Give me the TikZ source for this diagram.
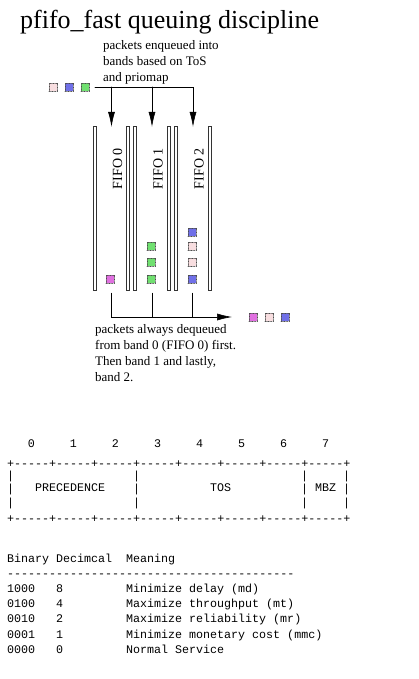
\documentclass[tikz,border=0pt]{standalone}
\usepackage{fontspec}
\setmainfont{Liberation Serif}
\setmonofont{Liberation Mono}
\usepackage{tikz}
\usetikzlibrary{calc}
\usetikzlibrary{arrows.meta}
\usetikzlibrary{positioning}
\definecolor{pktpink}{RGB}{248,222,224}
\definecolor{pktblue}{RGB}{112,112,232}
\definecolor{pktgreen}{RGB}{112,224,112}
\definecolor{pktmagenta}{RGB}{224,112,224}

\begin{document}
\begin{tikzpicture}[x=1pt,y=-1pt,cap=round]
  \tikzstyle{packet}=[draw=black!70,densely dotted,minimum size=8pt,inner sep=0pt,line width=0.6pt]
  \tikzstyle{wall}=[draw=black!80,line width=0.7pt,fill=white]
  \tikzstyle{band}=[minimum width=33pt,minimum height=163pt,inner sep=0pt]
  \tikzstyle{txt}=[inner sep=0pt,anchor=base west,align=left,font=\fontsize{13}{16}\selectfont]
  \tikzstyle{mono}=[inner sep=0pt,anchor=base west,font=\ttfamily\fontsize{11.67}{14}\selectfont]
  \tikzstyle{flow}=[-{Latex[length=15pt,width=7pt]},line width=0.6pt]
  \useasboundingbox (0,0) rectangle (419,679);

  \node[inner sep=0pt,anchor=base west,font=\fontsize{26}{30}\selectfont] (title) at (20,29) {pfifo\_fast queuing discipline};

  % enqueue side (base is the last line)
  \node[txt] (enqtxt) at (103,82) {packets enqueued into\\bands based on ToS\\and priomap};
  \foreach \x/\c/\n in {53/pktpink/in0, 69/pktblue/in1, 85/pktgreen/in2}
    \node[packet,fill=\c] (\n) at (\x,87) {};
  \coordinate (split) at (95,87);

  % the three bands
  \foreach \i/\x in {0/111.5, 1/152, 2/193} {
    \node[band] (fifo\i) at (\x,208.5) {};
    \draw[wall] ($(fifo\i.north west)+(-1.5,0)$) rectangle ($(fifo\i.south west)+(1.5,0)$);
    \draw[wall] ($(fifo\i.north east)+(-1.5,0)$) rectangle ($(fifo\i.south east)+(1.5,0)$);
    \node[rotate=90,inner sep=0pt,font=\fontsize{14}{16}\selectfont] (lab\i) at ($(fifo\i.north)+(6,42)$) {FIFO \i};
  }
  \draw[flow] (split) -| (fifo2.north);
  \draw[flow] (split -| fifo0.north) -- (fifo0.north);
  \draw[flow] (split -| fifo1.north) -- (fifo1.north);

  % queued packets
  \foreach \x/\y/\c/\n in {110/279/pktmagenta/p0a, 151/279/pktgreen/p1a, 151/262/pktgreen/p1b, 151/246/pktgreen/p1c,
                           192/279/pktblue/p2a, 192/262/pktpink/p2b, 192/246/pktpink/p2c, 192/232/pktblue/p2d}
    \node[packet,fill=\c] (\n) at (\x,\y) {};

  % dequeue side
  \coordinate (deq) at (232,317);
  \draw[flow] ($(fifo0.south)+(-0.5,3)$) |- (deq);
  \draw[line width=0.6pt] ($(fifo1.south)+(0,3)$) -- (fifo1.south |- deq);
  \draw[line width=0.6pt] ($(fifo2.south)+(-1,3)$) -- ($(fifo2.south |- deq)+(-1,0)$);
  \foreach \x/\c/\n in {253/pktmagenta/out0, 269/pktpink/out1, 285/pktblue/out2}
    \node[packet,fill=\c] (\n) at (\x,317) {};
  \node[txt] (deqtxt) at (95,381) {packets always dequeued\\from band 0 (FIFO 0) first.\\Then band 1 and lastly,\\band 2.};

  % ToS byte
  \foreach \b in {0,...,7}
    \node[mono,anchor=base] (bit\b) at ({7+(6*\b+3.5)*7},447) {\b};
  \node[mono] (rowtop) at (7,467) {+-----+-----+-----+-----+-----+-----+-----+-----+};
  \foreach \y [count=\r] in {479,492.5,506}
    \foreach \c in {0,18,42,48}
      \node[mono] (bar\r-\c) at ({7+\c*7},\y) {|};
  \node[mono] (prec) at (35,491) {PRECEDENCE};
  \node[mono] (tos) at (210,491) {TOS};
  \node[mono] (mbz) at (315,491) {MBZ};
  \node[mono] (rowbot) at (7,522) {+-----+-----+-----+-----+-----+-----+-----+-----+};

  % TOS values
  \node[mono] (hbin) at (7,562) {Binary};
  \node[mono] (hdec) at (56,562) {Decimcal};
  \node[mono] (hmean) at (126,562) {Meaning};
  \node[mono] (rule) at (7,577) {-----------------------------------------};
  \foreach \bin/\dec/\mean [count=\r] in {1000/8/Minimize delay (md), 0100/4/Maximize throughput (mt),
                                          0010/2/Maximize reliability (mr), 0001/1/Minimize monetary cost (mmc),
                                          0000/0/Normal Service} {
    \node[mono] (bin\r) at (7,{577+15.3*\r}) {\bin};
    \node[mono] (dec\r) at (56,{577+15.3*\r}) {\dec};
    \node[mono] (mean\r) at (126,{577+15.3*\r}) {\mean};
  }
\end{tikzpicture}
\end{document}
